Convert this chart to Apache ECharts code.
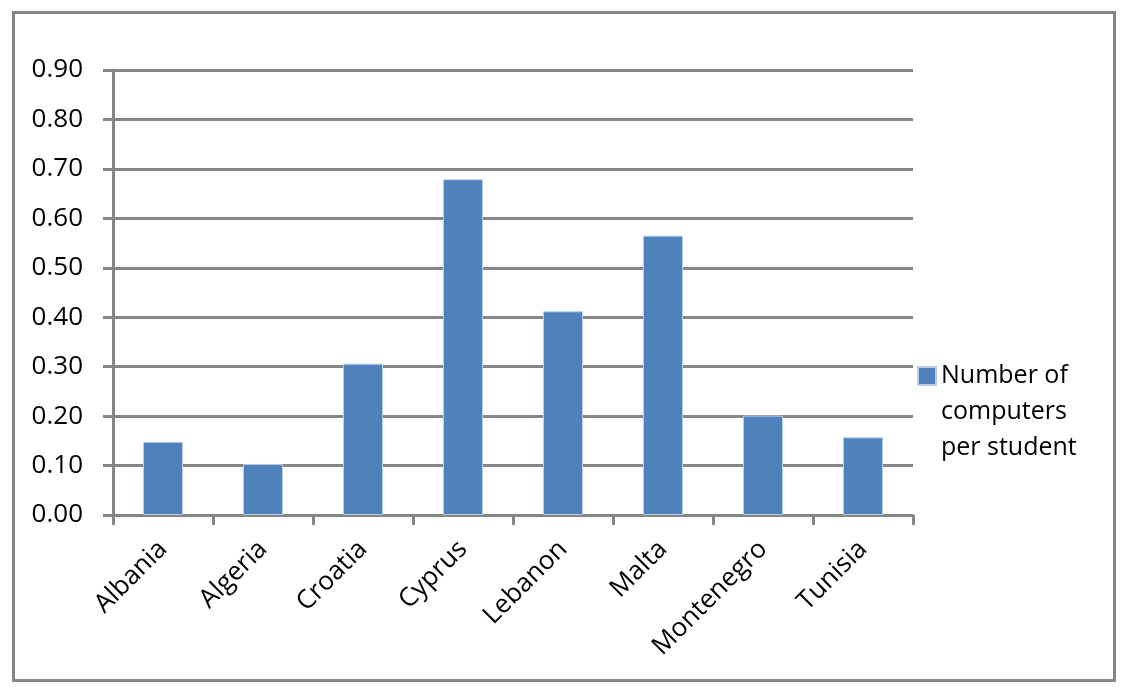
<!DOCTYPE html>
<html>
<head>
<meta charset="utf-8">
<script src="https://cdn.jsdelivr.net/npm/echarts@6/dist/echarts.min.js"></script>
<style>
html,body{margin:0;padding:0;background:#fff;}
#chart{width:1123px;height:690px;}
</style>
</head>
<body>
<div id="chart"></div>
<script>
const categories = ['Albania','Algeria','Croatia','Cyprus','Lebanon','Malta','Montenegro','Tunisia'];
const seriesName = 'Number of computers per student';
const legendLines = ['Number of', 'computers', 'per student'];
const values = [0.148, 0.103, 0.306, 0.679, 0.412, 0.565, 0.201, 0.157];
const yTicks = {min: 0, max: 0.9, interval: 0.1};

const chart = echarts.init(document.getElementById('chart'));
const FONT = 'Open Sans';
const FS = 26;
const GRAY = '#868686';
chart.setOption({
  animation: false,
  backgroundColor: '#fff',
  textStyle: {fontFamily: FONT},
  graphic: [{
    type: 'rect', left: 11, top: 10,
    shape: {x: 0, y: 0, width: 1101, height: 668},
    style: {fill: 'none', stroke: GRAY, lineWidth: 3}
  }],
  grid: {left: 113, right: 210, top: 70, bottom: 175, containLabel: false},
  legend: {
    left: 917, top: 286,
    orient: 'vertical',
    itemWidth: 18, itemHeight: 18, itemGap: 0, padding: 0,
    icon: 'rect',
    data: [seriesName],
    formatter: function () { return '\u00a0\n\u00a0\n' + legendLines.join('\n'); },
    textStyle: {fontFamily: FONT, fontSize: 25, color: '#000', lineHeight: 36}
  },
  xAxis: {
    type: 'category',
    data: categories,
    axisLine: {lineStyle: {color: GRAY, width: 3}},
    axisTick: {show: true, length: 10, lineStyle: {color: GRAY, width: 3}},
    axisLabel: {rotate: 45, fontSize: FS, color: '#000', margin: 30, fontFamily: FONT, interval: 0}
  },
  yAxis: {
    type: 'value',
    min: yTicks.min, max: yTicks.max, interval: yTicks.interval,
    axisLine: {show: true, lineStyle: {color: GRAY, width: 3}},
    axisTick: {show: true, length: 10, lineStyle: {color: GRAY, width: 3}},
    splitLine: {show: true, lineStyle: {color: GRAY, width: 3}},
    axisLabel: {fontSize: FS, color: '#000', margin: 30, fontFamily: FONT,
      formatter: v => v.toFixed(2)}
  },
  series: [{
    name: seriesName,
    type: 'bar',
    data: values,
    barWidth: '40%',
    itemStyle: {color: '#4F81BD', borderColor: '#B9CDE5', borderWidth: 1}
  }]
});
</script>
</body>
</html>
